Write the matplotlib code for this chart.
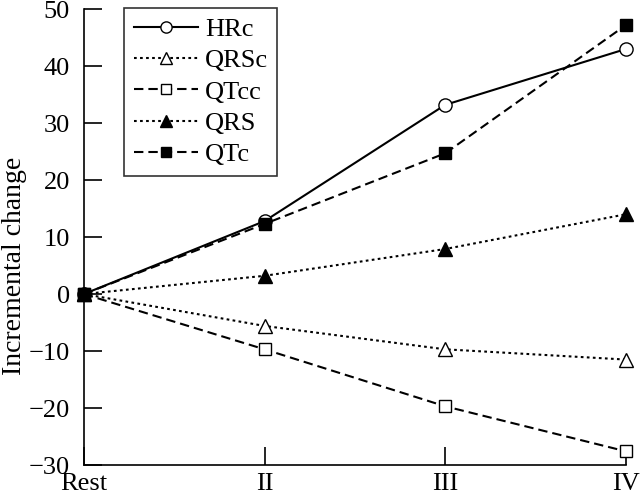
import matplotlib
matplotlib.use('Agg')
import matplotlib.pyplot as plt

stages = ['Rest', 'II', 'III', 'IV']
hrc = [0, 12.8, 33.2, 43.0]
qrsc = [0, -5.6, -9.7, -11.5]
qtcc = [0, -9.7, -19.7, -27.6]
qrs = [0, 3.2, 7.9, 14.0]
qtc = [0, 12.3, 24.7, 47.2]

plt.rcParams['font.family'] = ['Liberation Serif', 'DejaVu Serif']

fig = plt.figure(figsize=(6.4, 4.95), dpi=100)
ax = fig.add_axes([0.131, 0.0606, 0.847, 0.921])

x = list(range(len(stages)))
ms = 9.5
lw = 1.5
ax.plot(x, hrc, '-', color='black', lw=lw, marker='o', ms=ms, mfc='white', mec='black', mew=1.0, label='HRc', clip_on=False, zorder=3)
ax.plot(x, qrsc, ':', color='black', lw=lw, marker='^', ms=ms, mfc='white', mec='black', mew=1.0, label='QRSc', clip_on=False, zorder=3, dashes=(1.3, 1.6))
ax.plot(x, qtcc, '--', color='black', lw=lw, marker='s', ms=ms - 0.5, mfc='white', mec='black', mew=1.0, label='QTcc', clip_on=False, zorder=3, dashes=(4.5, 2.4))
ax.plot(x, qrs, ':', color='black', lw=lw, marker='^', ms=ms, mfc='black', mec='black', label='QRS', clip_on=False, zorder=3, dashes=(1.3, 1.6))
ax.plot(x, qtc, '--', color='black', lw=lw, marker='s', ms=ms - 0.5, mfc='black', mec='black', label='QTc', clip_on=False, zorder=4, dashes=(4.5, 2.4))

ax.set_xlim(0, 3)
ax.set_ylim(-30, 50)
ax.set_xticks(x)
ax.set_xticklabels(stages)
ax.set_yticks(range(-30, 51, 10))
ax.set_yticklabels([str(v).replace('-', '\u2212') for v in range(-30, 51, 10)])
ax.spines['top'].set_visible(False)
ax.spines['right'].set_visible(False)
for s in ('left', 'bottom'):
    ax.spines[s].set_linewidth(1.2)
ax.tick_params(direction='in', length=13, width=1.2, labelsize=19)
ax.tick_params(axis='y', pad=10)
ax.tick_params(axis='x', pad=6)
ax.set_ylabel('Incremental change', fontsize=20)
ax.yaxis.set_label_coords(-0.105, 0.436)

leg = ax.legend(loc='upper left', bbox_to_anchor=(0.07, 1.008), fontsize=19, frameon=True, fancybox=False,
                edgecolor='black', handlelength=2.45, borderpad=0.35, labelspacing=0.3, handletextpad=0.25,
                markerscale=0.85, borderaxespad=0.1)
leg.get_frame().set_linewidth(1.2)

fig.savefig('out.png', dpi=100)
